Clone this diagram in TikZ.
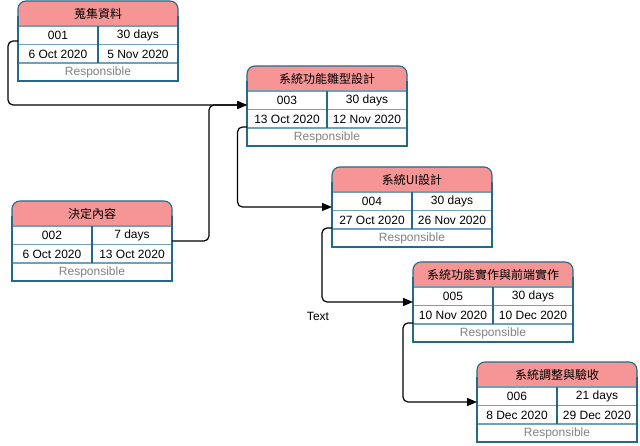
\documentclass[tikz,border=0pt]{standalone}
\usepackage{fontspec}
\setmainfont{Liberation Sans}
\newfontfamily\cjk{Noto Sans CJK TC}
\usetikzlibrary{arrows.meta}
\definecolor{hdr}{RGB}{245,149,149}
\definecolor{bordercol}{RGB}{35,105,140}
\definecolor{sepcol}{RGB}{115,160,185}
\definecolor{respcol}{RGB}{130,130,130}
\tikzset{
  frame/.style={draw=bordercol, line width=1.1pt},
  sepline/.style={draw=sepcol, line width=1.3pt},
  cell/.style={inner sep=0pt, font=\fontsize{12}{14}\selectfont},
  boxnode/.style={minimum width=160pt, minimum height=80pt, anchor=north west, inner sep=0pt, outer sep=0pt},
  conn/.style={draw=black, line width=1.2pt, rounded corners=5pt, -{Triangle[length=10pt,width=8pt]}},
}
\newcommand\taskbox[8]{%
  \fill[hdr, rounded corners=8pt] (#2,#3) rectangle ({#2+160},{#3+40});
  \draw[frame, rounded corners=8pt] (#2,#3) rectangle ({#2+160},{#3+40});
  \fill[white] ({#2-1},{#3+25}) rectangle ({#2+161},{#3+81});
  \draw[frame] (#2,{#3+15}) -- (#2,{#3+80}) -- ({#2+160},{#3+80}) -- ({#2+160},{#3+15});
  \draw[sepline] ({#2+0.6},{#3+25}) -- ({#2+159.4},{#3+25});
  \draw[sepline] ({#2+0.6},{#3+43.5}) -- ({#2+159.4},{#3+43.5});
  \draw[sepline] ({#2+0.6},{#3+62}) -- ({#2+159.4},{#3+62});
  \draw[frame] ({#2+80},{#3+25}) -- ({#2+80},{#3+62});
  \node[boxnode] (#1) at (#2,#3) {};
  \node[cell] (#1-title) at ({#2+80},{#3+13}) {\cjk #4};
  \node[cell] (#1-id) at ({#2+40},{#3+34.5}) {#5};
  \node[cell] (#1-dur) at ({#2+120},{#3+34.5}) {#6};
  \node[cell] (#1-start) at ({#2+40},{#3+53}) {#7};
  \node[cell] (#1-end) at ({#2+120},{#3+53}) {#8};
  \node[cell, text=respcol] (#1-resp) at ({#2+80},{#3+71.5}) {Responsible};
}
\begin{document}
\begin{tikzpicture}[x=1pt, y=-1pt]
\useasboundingbox[fill=white] (0,0) rectangle (640,446);
\taskbox{b1}{18}{1}{蒐集資料}{001}{30 days}{6 Oct 2020}{5 Nov 2020}
\taskbox{b2}{12}{201}{決定內容}{002}{7 days}{6 Oct 2020}{13 Oct 2020}
\taskbox{b3}{247}{66}{系統功能雛型設計}{003}{30 days}{13 Oct 2020}{12 Nov 2020}
\taskbox{b4}{332}{167}{系統UI設計}{004}{30 days}{27 Oct 2020}{26 Nov 2020}
\taskbox{b5}{413}{262}{系統功能實作與前端實作}{005}{30 days}{10 Nov 2020}{10 Dec 2020}
\taskbox{b6}{477}{362}{系統調整與驗收}{006}{21 days}{8 Dec 2020}{29 Dec 2020}

\draw[conn] ([yshift=-40pt]b1.north west) -- ++(-10,0) |- ([yshift=-39pt]b3.north west);
\draw[conn] ([yshift=-40pt]b2.north east) -- ++(37,0) |- ([yshift=-39pt]b3.north west);
\draw[conn] ([yshift=-61pt]b3.north west) -- ++(-9.5,0) |- ([yshift=-40pt]b4.north west);
\draw[conn] ([yshift=-61pt]b4.north west) -- ++(-10,0) |- ([yshift=-40pt]b5.north west);
\draw[conn] ([yshift=-61pt]b5.north west) -- ++(-10,0) |- ([yshift=-40pt]b6.north west);
\node[cell] (lbl) at (318,316) {Text};
\end{tikzpicture}
\end{document}
